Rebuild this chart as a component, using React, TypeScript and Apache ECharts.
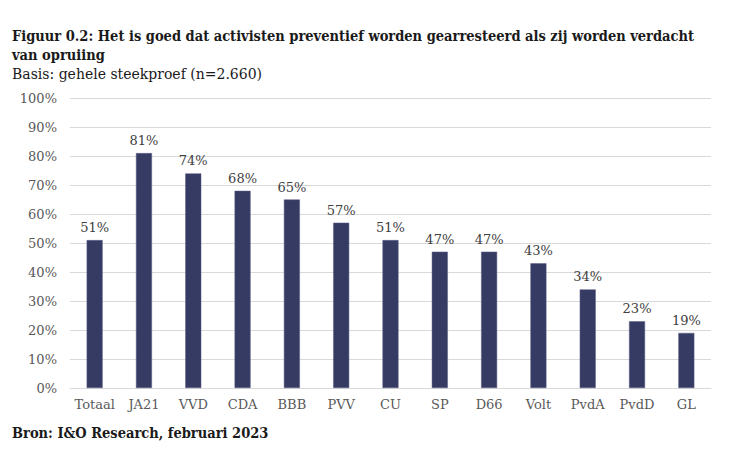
import React, { useEffect, useRef } from "react";
import * as echarts from "echarts";

const categories = ["Totaal", "JA21", "VVD", "CDA", "BBB", "PVV", "CU", "SP", "D66", "Volt", "PvdA", "PvdD", "GL"];
const values = [51, 81, 74, 68, 65, 57, 51, 47, 47, 43, 34, 23, 19];
const titleLines = [
  "Figuur 0.2: Het is goed dat activisten preventief worden gearresteerd als zij worden verdacht",
  "van opruiing",
];
const subtitle = "Basis: gehele steekproef (n=2.660)";
const source = "Bron: I&O Research, februari 2023";

const FONT = "DejaVu Serif";
const BOLDFONT = "DejaVu Serif Condensed";

export default function App() {
  const ref = useRef<HTMLDivElement>(null);
  useEffect(() => {
    const chart = echarts.init(ref.current!, null, { renderer: "svg" });
    chart.setOption({
      animation: false,
      backgroundColor: "#ffffff",
      textStyle: { fontFamily: FONT },
      graphic: [
        {
          type: "text",
          left: 12,
          top: 26,
          style: {
            text: titleLines.join("\n"),
            font: `bold 14.5px "${BOLDFONT}"`,
            fill: "#1a1a1a",
            lineHeight: 19,
          },
        },
        {
          type: "text",
          left: 12,
          top: 64,
          style: { text: subtitle, font: `14px "${FONT}"`, fill: "#1a1a1a", lineHeight: 19 },
        },
        {
          type: "text",
          left: 12,
          top: 425,
          style: { text: source, font: `bold 14.5px "${BOLDFONT}"`, fill: "#1a1a1a" },
        },
      ],
      grid: { left: 70, right: 19, top: 98, bottom: 86, containLabel: false },
      xAxis: {
        type: "category",
        data: categories,
        axisTick: { show: false },
        axisLine: { show: true, lineStyle: { color: "#d9d9d9" } },
        axisLabel: { color: "#595959", fontSize: 13, fontFamily: FONT, margin: 10, interval: 0 },
      },
      yAxis: {
        type: "value",
        min: 0,
        max: 100,
        interval: 10,
        axisLabel: { color: "#595959", fontSize: 13, fontFamily: FONT, formatter: "{value}%", margin: 13 },
        splitLine: { lineStyle: { color: "#d9d9d9" } },
        axisLine: { show: false },
        axisTick: { show: false },
      },
      series: [
        {
          type: "bar",
          data: values,
          barWidth: 16,
          itemStyle: { color: "#363b64", borderColor: "#5a5f85", borderWidth: 0.5 },
          label: {
            show: true,
            position: "top",
            formatter: "{c}%",
            color: "#404040",
            fontSize: 13,
            fontFamily: FONT,
            distance: 6,
          },
        },
      ],
    });
    return () => chart.dispose();
  }, []);
  return <div ref={ref} style={{ width: 730, height: 474, margin: -8 }} />;
}
